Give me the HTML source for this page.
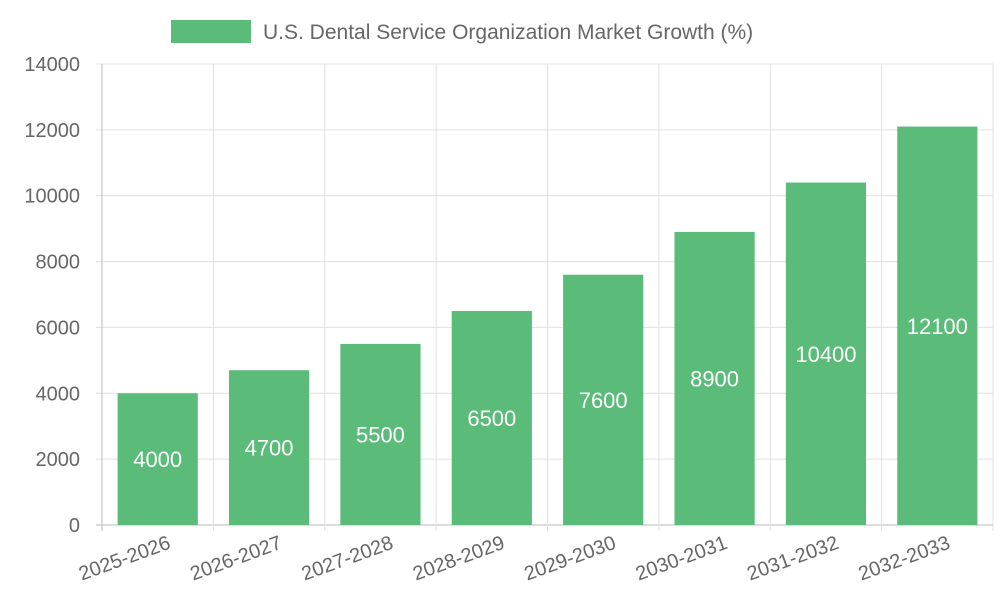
<!DOCTYPE html>
<html><head><meta charset="utf-8"><style>
body{margin:0;background:#fff;}
svg text{font-family:"Liberation Sans",sans-serif;}
</style></head><body>
<svg id="chart" width="1000" height="600" viewBox="0 0 1000 600">
<g id="legend">
<rect x="171" y="20" width="80" height="23" fill="#5bbb79"/>
<text x="263" y="39" font-size="21" fill="#666">U.S. Dental Service Organization Market Growth (%)</text>
</g>
<g id="grid"></g><g id="bars"></g><g id="labels"></g>
</svg>
<script>
const categories=["2025-2026","2026-2027","2027-2028","2028-2029","2029-2030","2030-2031","2031-2032","2032-2033"];
const values=[4000,4700,5500,6500,7600,8900,10400,12100];
const yTicks=[0,2000,4000,6000,8000,10000,12000,14000];
const NS="http://www.w3.org/2000/svg";
const L=102,R=993,T=64,B=525,yMax=14000;
const bw=(R-L)/categories.length;
const y=v=>B-(v/yMax)*(B-T);
const x=i=>L+bw*i;
function mk(tag,attrs,parent,txt){const e=document.createElementNS(NS,tag);for(const k in attrs)e.setAttribute(k,attrs[k]);if(txt!==undefined)e.textContent=txt;parent.appendChild(e);return e;}
const grid=document.getElementById('grid'),bars=document.getElementById('bars'),labels=document.getElementById('labels');
yTicks.forEach(t=>{
 const g=mk('line',{x1:96,x2:R,y1:y(t),y2:y(t),stroke:t===0?'#bbb':'#e0e0e0','stroke-width':1},grid);
 
 
 const tx=mk('text',{x:80,y:y(t)+7,'text-anchor':'end','font-size':20,fill:'#666'},labels,String(t));
 
 
});
for(let i=0;i<=categories.length;i++){
 const g=mk('line',{x1:x(i),x2:x(i),y1:T,y2:B+6,stroke:i===0?'#bbb':'#e0e0e0','stroke-width':1},grid);
 
 
}
categories.forEach((c,i)=>{
 const cx=x(i)+bw/2,w=bw*0.72;
 const r=mk('rect',{x:cx-w/2,y:y(values[i]),width:w,height:B-y(values[i]),fill:'#5bbb79'},bars);
 
 
 const v=mk('text',{x:cx,y:(y(values[i])+B)/2+8,'text-anchor':'middle','font-size':22,fill:'#fff'},labels,String(values[i]));
 
 
 const t=mk('text',{x:cx+14,y:548,'text-anchor':'end','font-size':20,fill:'#666',transform:`rotate(-20 ${cx+14} 548)`},labels,c);
 
 
});
</script>
</body></html>
